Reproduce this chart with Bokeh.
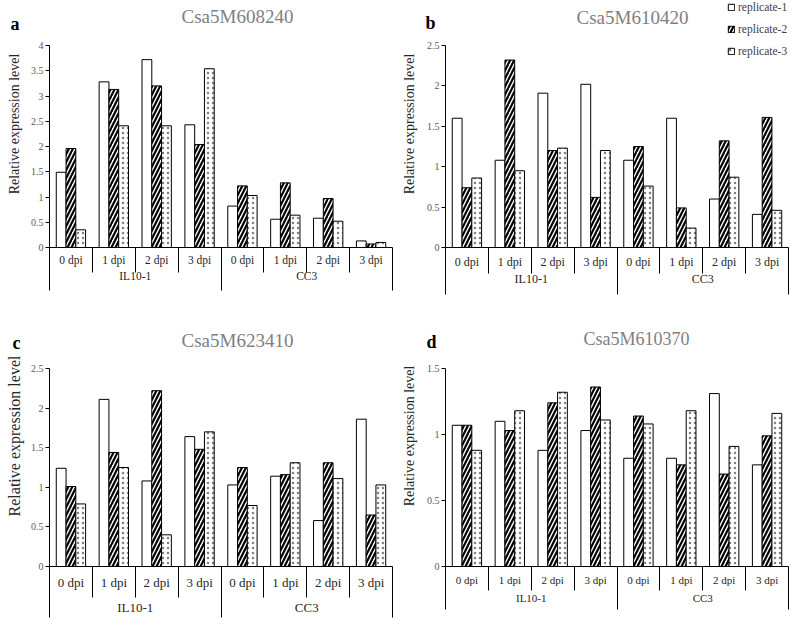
from bokeh.plotting import figure
from bokeh.models import (Range1d, LinearAxis, FixedTicker, Label, Legend, LegendItem,
                          ColumnDataSource, CustomJSTickFormatter, PrintfTickFormatter)
from bokeh.layouts import row, column
from bokeh.embed import file_html
from bokeh.resources import INLINE

# ---------------- data ----------------
groups = ["IL10-1", "CC3"]
dpis = ["0 dpi", "1 dpi", "2 dpi", "3 dpi"]
replicates = ["replicate-1", "replicate-2", "replicate-3"]
genes = ["Csa5M608240", "Csa5M610420", "Csa5M623410", "Csa5M610370"]
panel_letters = ["a", "b", "c", "d"]
y_max = [4, 2.5, 2.5, 1.5]
y_step = [0.5, 0.5, 0.5, 0.5]

# order: IL10-1 0,1,2,3 dpi then CC3 0,1,2,3 dpi
a_rep1 = [1.49, 3.28, 3.72, 2.43, 0.82, 0.56, 0.58, 0.13]
a_rep2 = [1.96, 3.13, 3.20, 2.04, 1.22, 1.28, 0.97, 0.07]
a_rep3 = [0.35, 2.41, 2.41, 3.54, 1.03, 0.64, 0.52, 0.10]

b_rep1 = [1.60, 1.08, 1.91, 2.02, 1.08, 1.60, 0.60, 0.41]
b_rep2 = [0.74, 2.32, 1.20, 0.62, 1.25, 0.49, 1.32, 1.61]
b_rep3 = [0.86, 0.95, 1.23, 1.20, 0.76, 0.24, 0.87, 0.46]

c_rep1 = [1.24, 2.11, 1.08, 1.64, 1.03, 1.14, 0.58, 1.86]
c_rep2 = [1.01, 1.44, 2.22, 1.48, 1.25, 1.16, 1.31, 0.65]
c_rep3 = [0.79, 1.25, 0.40, 1.70, 0.77, 1.31, 1.11, 1.03]

d_rep1 = [1.07, 1.10, 0.88, 1.03, 0.82, 0.82, 1.31, 0.77]
d_rep2 = [1.07, 1.03, 1.24, 1.36, 1.14, 0.77, 0.70, 0.99]
d_rep3 = [0.88, 1.18, 1.32, 1.11, 1.08, 1.18, 0.91, 1.16]

panel_data = [
    [a_rep1, a_rep2, a_rep3],
    [b_rep1, b_rep2, b_rep3],
    [c_rep1, c_rep2, c_rep3],
    [d_rep1, d_rep2, d_rep3],
]

# ---------------- styling / layout ----------------
FONT = "Liberation Serif"
H_RATIO = 1.37          # measured text-box height / font size
BAR_W = 0.228
OFFSETS = [-BAR_W, 0.0, BAR_W]
STYLES = [
    dict(),
    dict(hatch_pattern="/", hatch_color="black", hatch_weight=2.2, hatch_scale=8),
    dict(hatch_pattern=".", hatch_color="#808080", hatch_weight=1.0, hatch_scale=5),
]

# per panel geometry (canvas px). T = pixel row of the top tick
GEOM = [
    dict(W=397, H=305, left=49, right=5, bottom=58, T=45, fs=11.5, lab_fs=14, lab_so=6,
         row1=13.5, sep1=25, row2=30, sep2=43,
         title=(237, 15.5), title_fs=19, letter_y=23, letter_so=-16),
    dict(W=397, H=305, left=48, right=6, bottom=58, T=45, fs=12, lab_fs=14, lab_so=7,
         row1=15, sep1=26, row2=31, sep2=46,
         title=(235, 17), title_fs=19, letter_y=22, letter_so=-37),
    dict(W=397, H=313, left=49, right=5, bottom=52, T=63, fs=13, lab_fs=16, lab_so=5,
         row1=17, sep1=31, row2=42, sep2=51,
         title=(237, 35), title_fs=19, letter_y=37, letter_so=-18),
    dict(W=397, H=313, left=48, right=6, bottom=52, T=63, fs=11, lab_fs=14, lab_so=7,
         row1=15, sep1=24, row2=34, sep2=44,
         title=(239, 33), title_fs=18, letter_y=36, letter_so=-38),
]

n_cat = len(groups) * len(dpis)
cat_labels = [d for g in groups for d in dpis]


def build(i):
    g = GEOM[i]
    bottom_c = g["H"] - g["bottom"]                 # frame bottom (canvas px)
    ymax = y_max[i]
    y_end = ymax * bottom_c / (bottom_c - g["T"])   # frame runs up to the canvas top
    p = figure(width=g["W"], height=g["H"], x_range=Range1d(0, n_cat),
               y_range=Range1d(0, y_end), output_backend="svg",
               toolbar_location=None, x_axis_type=None, y_axis_type=None,
               min_border_left=g["left"], min_border_right=g["right"],
               min_border_top=0, min_border_bottom=g["bottom"])
    p.outline_line_color = None
    p.background_fill_color = "white"
    p.border_fill_color = "white"

    renderers = []
    for k, vals in enumerate(panel_data[i]):
        xs = [j + 0.5 + OFFSETS[k] for j in range(n_cat)]
        src = ColumnDataSource(dict(x=xs, top=vals))
        r = p.vbar(x="x", top="top", bottom=0, width=BAR_W, source=src,
                   fill_color="white", line_color="black", line_width=1, **STYLES[k])
        renderers.append(r)

    # ---- y axis (bounded to the data span) ----
    nt = int(round(ymax / y_step[i]))
    yax = LinearAxis(ticker=FixedTicker(ticks=[k * y_step[i] for k in range(nt + 1)], minor_ticks=[]),
                     formatter=PrintfTickFormatter(format="%g"), bounds=(0, ymax))
    yax.axis_label = "Relative expression level"
    yax.axis_label_text_font = FONT
    yax.axis_label_text_font_style = "normal"
    yax.axis_label_text_font_size = f"{g['lab_fs']}px"
    yax.axis_label_text_color = "#262626"
    yax.axis_label_standoff = g["lab_so"]
    yax.major_label_text_font = FONT
    yax.major_label_text_font_size = "10px"
    yax.major_label_text_color = "#595959"
    yax.major_label_standoff = 2
    yax.major_tick_in = 0
    yax.major_tick_out = 4
    yax.major_tick_line_color = "black"
    yax.axis_line_color = "black"
    p.add_layout(yax, "left")

    # ---- panel letter, drawn as the single tick label of an outer left axis ----
    ly = y_end * (1 - g["letter_y"] / bottom_c)
    lax = LinearAxis(ticker=FixedTicker(ticks=[ly], minor_ticks=[]),
                     formatter=CustomJSTickFormatter(args=dict(t=panel_letters[i]), code="return t"))
    lax.axis_line_color = None
    lax.major_tick_line_color = None
    lax.major_tick_in = 0
    lax.major_tick_out = 0
    lax.major_label_standoff = g["letter_so"]
    lax.major_label_text_font = FONT
    lax.major_label_text_font_size = "18px"
    lax.major_label_text_font_style = "bold"
    lax.major_label_text_color = "black"
    p.add_layout(lax, "left")

    # ---- first category row (dpi) ----
    h1 = g["fs"] * H_RATIO
    s1 = (g["row1"] - h1 / 2) - g["sep1"]
    size1 = g["sep1"] + s1 + h1
    x1 = LinearAxis(ticker=FixedTicker(ticks=[j + 0.5 for j in range(n_cat)],
                                       minor_ticks=list(range(n_cat + 1))),
                    formatter=CustomJSTickFormatter(args=dict(labels=cat_labels),
                                                    code="return labels[Math.floor(tick)]"))
    x1.major_tick_in = 0
    x1.major_tick_out = 0
    x1.major_tick_line_color = None
    x1.minor_tick_in = 0
    x1.minor_tick_out = g["sep1"]
    x1.minor_tick_line_color = "black"
    x1.axis_line_color = "black"
    x1.major_label_standoff = round(s1)
    x1.major_label_text_font = FONT
    x1.major_label_text_font_size = f"{g['fs']}px"
    x1.major_label_text_color = "#262626"
    p.add_layout(x1, "below")

    # ---- second category row (groups) ----
    per = len(dpis)
    sep2 = g["sep2"] - size1
    s2 = (g["row2"] - size1 - h1 / 2) - sep2
    x2 = LinearAxis(ticker=FixedTicker(ticks=[gi * per + per / 2 for gi in range(len(groups))],
                                       minor_ticks=[gi * per for gi in range(len(groups) + 1)]),
                    formatter=CustomJSTickFormatter(args=dict(labels=groups, per=per),
                                                    code="return labels[Math.floor(tick / per)]"))
    x2.major_tick_in = 0
    x2.major_tick_out = 0
    x2.major_tick_line_color = None
    x2.minor_tick_in = 0
    x2.minor_tick_out = round(sep2)
    x2.minor_tick_line_color = "black"
    x2.axis_line_color = None
    x2.major_label_standoff = round(s2)
    x2.major_label_text_font = FONT
    x2.major_label_text_font_size = f"{g['fs']}px"
    x2.major_label_text_color = "#262626"
    p.add_layout(x2, "below")

    # ---- gene title (inside the frame, which reaches the canvas top) ----
    tx, ty = g["title"]
    p.add_layout(Label(x=tx, y=ty, x_units="canvas", y_units="canvas", text=genes[i],
                       text_font=FONT, text_font_size=f"{g['title_fs']}px", text_color="#808080",
                       text_align="center", text_baseline="middle"))
    return p, renderers


figs, rends = [], []
for i in range(4):
    f, r = build(i)
    figs.append(f)
    rends.append(r)

# ---- legend in panel b (inside its frame) ----
pitch = 22
leg_top = 7 - pitch / 2
leg_bottom = leg_top + 3 * pitch
bottom_b = GEOM[1]["H"] - GEOM[1]["bottom"]
leg = Legend(items=[LegendItem(label=replicates[k], renderers=[rends[1][k]]) for k in range(3)],
             location=(330 - GEOM[1]["left"], bottom_b - leg_bottom), orientation="vertical",
             glyph_width=8, glyph_height=8, label_height=pitch, label_standoff=3,
             spacing=0, padding=0, margin=0,
             border_line_color=None, background_fill_alpha=0,
             label_text_font=FONT, label_text_font_size="11.5px", label_text_color="#404040")
figs[1].add_layout(leg)

layout = column(row(figs[0], figs[1]), row(figs[2], figs[3]))

with open("out.html", "w") as fh:
    fh.write(file_html(layout, INLINE))
